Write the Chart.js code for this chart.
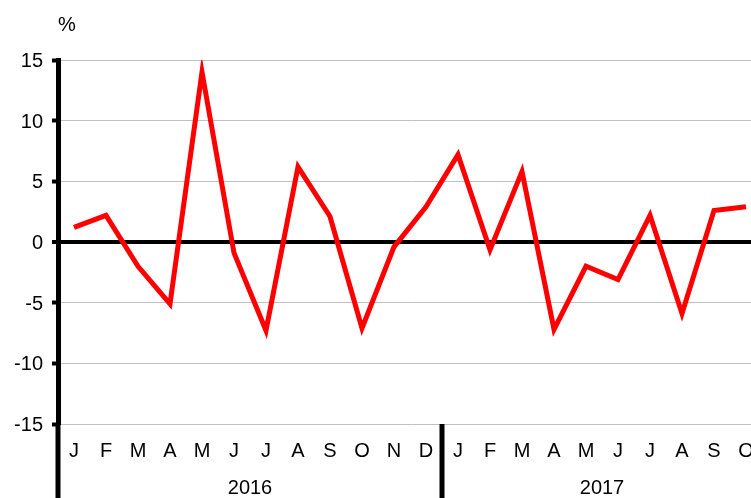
<!DOCTYPE html>
<html>
<head>
<meta charset="utf-8">
<script src="https://cdn.jsdelivr.net/npm/chart.js@4"></script>
<style>
  html, body { margin: 0; padding: 0; background: #fff; overflow: hidden; }
  canvas { display: block; }
</style>
</head>
<body>
<canvas id="chart" width="762" height="498"></canvas>
<script>
// monthly change, %
var months = ['J', 'F', 'M', 'A', 'M', 'J', 'J', 'A', 'S', 'O', 'N', 'D',
              'J', 'F', 'M', 'A', 'M', 'J', 'J', 'A', 'S', 'O'];
var values = [1.2, 2.2, -2.0, -5.1, 14.0, -0.9, -7.3, 6.2, 2.1, -7.1, -0.4, 2.9,
              7.2, -0.65, 5.8, -7.2, -2.0, -3.1, 2.2, -5.9, 2.6, 2.9];
var years = ['2016', '2017'];
var yearStart = [0, 12];
var yearEnd = [11, 21];
var unitLabel = '%';

var FONT = "'Liberation Sans', Arial, sans-serif";

var extras = {
    id: 'extras',
    afterDraw: function(chart) {
        var c = chart.ctx, a = chart.chartArea, x = chart.scales.x;
        var H = chart.height;
        c.save();
        c.strokeStyle = '#000';
        c.lineWidth = 5;
        // left axis running down through the label rows
        c.beginPath();
        c.moveTo(a.left, a.bottom);
        c.lineTo(a.left, H);
        c.stroke();
        // year separators
        for (var i = 1; i < yearStart.length; i++) {
            var sx = (x.getPixelForValue(yearStart[i] - 1) + x.getPixelForValue(yearStart[i])) / 2;
            c.beginPath();
            c.moveTo(sx, a.bottom);
            c.lineTo(sx, H);
            c.stroke();
        }
        // year labels
        c.fillStyle = '#000';
        c.font = '20px ' + FONT;
        c.textAlign = 'center';
        c.textBaseline = 'middle';
        for (var j = 0; j < years.length; j++) {
            var cx = (x.getPixelForValue(yearStart[j]) + x.getPixelForValue(yearEnd[j])) / 2;
            c.fillText(years[j], cx, 488);
        }
        c.fillText(unitLabel, 67, 25);
        c.restore();
    }
};

new Chart(document.getElementById('chart').getContext('2d'), {
    type: 'line',
    data: {
        labels: months,
        datasets: [{
            data: values,
            borderColor: '#ff0000',
            borderWidth: 5,
            pointRadius: 0,
            tension: 0,
            fill: false
        }]
    },
    options: {
        responsive: false,
        animation: false,
        layout: { padding: { top: 60, left: 0, right: 0, bottom: 0 } },
        plugins: { legend: { display: false }, tooltip: { enabled: false } },
        scales: {
            x: {
                type: 'category',
                offset: true,
                // invisible tick marks only push the month labels down
                grid: {
                    display: true,
                    drawOnChartArea: false,
                    drawTicks: true,
                    tickLength: 15,
                    color: 'rgba(0,0,0,0)'
                },
                border: { display: false },
                ticks: {
                    color: '#000',
                    font: { family: FONT, size: 20 },
                    padding: 0,
                    maxRotation: 0,
                    autoSkip: false
                },
                afterFit: function(scale) { scale.height = 74; }
            },
            y: {
                min: -15,
                max: 15,
                ticks: {
                    stepSize: 5,
                    color: '#000',
                    font: { family: FONT, size: 20 },
                    padding: 9,
                    labelOffset: 1.5
                },
                grid: {
                    color: function(ctx) { return ctx.tick && ctx.tick.value === 0 ? '#000' : '#c0c0c0'; },
                    lineWidth: function(ctx) { return ctx.tick && ctx.tick.value === 0 ? 4 : 1; },
                    tickColor: '#000',
                    tickWidth: 4,
                    tickLength: 6
                },
                border: { display: true, color: '#000', width: 5 },
                afterFit: function(scale) { scale.width = 58; }
            }
        }
    },
    plugins: [extras]
});
</script>
</body>
</html>
